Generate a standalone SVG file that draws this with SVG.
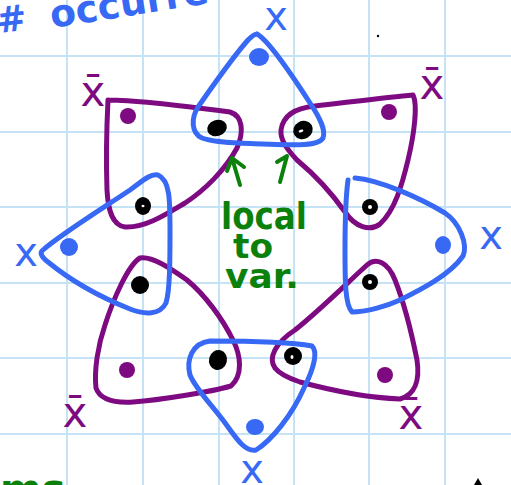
<svg xmlns="http://www.w3.org/2000/svg" width="511" height="485" viewBox="0 0 511 485">
<style>
.grid line{stroke:#c6e3f6;stroke-width:2}
.b{fill:none;stroke:#3869f5;stroke-width:5;stroke-linecap:round;stroke-linejoin:round}
.p{fill:none;stroke:#7d0a80;stroke-width:5;stroke-linecap:round;stroke-linejoin:round}
.g{fill:none;stroke:#0b800b;stroke-width:4;stroke-linecap:round;stroke-linejoin:round}
.bd{fill:#3869f5}
.pd{fill:#7d0a80}
.kd{fill:#000}
.hl{fill:#fff}
.tb{fill:#3869f5;font-family:"DejaVu Sans",sans-serif}
.tp{fill:#7d0a80;font-family:"DejaVu Sans",sans-serif}
.tg{fill:#0b800b;font-family:"DejaVu Sans",sans-serif;font-weight:bold}
</style>
<rect width="511" height="485" fill="#fff"/>
<g class="grid">
<line x1="67" y1="0" x2="67" y2="485"/><line x1="143" y1="0" x2="143" y2="485"/><line x1="219" y1="0" x2="219" y2="485"/><line x1="294" y1="0" x2="294" y2="485"/><line x1="369" y1="0" x2="369" y2="485"/><line x1="445" y1="0" x2="445" y2="485"/>
<line x1="0" y1="56" x2="511" y2="56"/><line x1="0" y1="132" x2="511" y2="132"/><line x1="0" y1="207" x2="511" y2="207"/><line x1="0" y1="283" x2="511" y2="283"/><line x1="0" y1="358" x2="511" y2="358"/><line x1="0" y1="434" x2="511" y2="434"/>
</g>
<text class="tb" x="-2" y="33" font-size="36" font-weight="bold" transform="rotate(-7 0 33)">#</text>
<text class="tb" x="52" y="28" font-size="38" font-weight="bold" transform="rotate(-9 52 28)" textLength="160" lengthAdjust="spacingAndGlyphs">occurre</text>
<text class="tg" x="0" y="503" font-size="40">ms</text>
<circle cx="378" cy="36" r="1.2" fill="#000"/>
<path d="M474,485 L478,478 L482,485" fill="#000"/>
<g id="clause-top-left">
<path class="p" d="M108,100 C140,100 200,108 230,112 C243,116 244,132 237,148 C225,170 205,190 185,203 C165,215 145,228 125,227 C112,225 108,210 107,190 C106,160 107,120 108,100"/>
<circle class="pd" cx="128" cy="116" r="8"/>
</g>
<g id="clause-top-right">
<path class="p" d="M297,160 C290,152 280,142 281,130 C283,115 295,108 315,106 C350,102 390,97 413,95 C418,105 414,135 408,160 C402,185 395,210 380,224 C370,232 355,227 345,212 C333,195 315,175 297,160"/>
<circle class="pd" cx="389" cy="112" r="8"/>
</g>
<g id="clause-bottom-left">
<path class="p" d="M140,258 C152,256 170,268 187,280 C205,295 222,318 233,340 C241,356 243,375 231,386 C210,392 160,400 133,402 C115,403 100,400 96,388 C94,370 98,345 105,325 C113,300 128,265 140,258"/>
<circle class="pd" cx="127" cy="370" r="8"/>
</g>
<g id="clause-bottom-right">
<path class="p" d="M275,368 C268,358 275,343 295,330 C320,310 345,285 367,265 C376,257 388,262 395,280 C405,305 412,335 417,360 C420,380 415,395 400,399 C370,398 330,390 300,382 C285,377 278,372 275,368"/>
<circle class="pd" cx="385" cy="375" r="8"/>
</g>
<g id="var-top">
<path class="b" d="M257,34 C268,40 290,72 310,103 C320,118 326,130 323,138 C318,147 290,145 262,144 C240,143 215,143 202,138 C191,133 191,118 198,107 C212,87 232,58 248,40 C252,36 255,34 257,34"/>
<ellipse class="bd" cx="259" cy="57" rx="10" ry="9"/>
</g>
<g id="var-left">
<path class="b" d="M43,250 C60,235 100,210 130,190 C140,183 150,173 158,175 C170,180 170,200 170,230 C170,260 170,290 166,303 C160,315 145,315 130,309 C100,297 70,280 48,262 C40,256 40,252 43,250"/>
<ellipse class="bd" cx="69" cy="247" rx="9" ry="9"/>
</g>
<g id="var-right">
<path class="b" d="M355,178 C380,180 420,198 445,213 C460,223 468,245 463,256 C450,275 420,290 400,300 C385,307 365,312 352,312 C345,305 345,280 345,250 C345,220 346,195 348,180"/>
<ellipse class="bd" cx="443" cy="245" rx="8" ry="9"/>
</g>
<g id="var-bottom">
<path class="b" d="M190,375 C186,360 192,343 210,341 C245,341 290,342 312,346 C318,352 314,368 304,388 C292,415 272,440 256,450 C246,452 238,441 228,427 C214,407 196,390 190,375"/>
<ellipse class="bd" cx="255" cy="427" rx="9" ry="8"/>
</g>
<g id="occurrences">
<ellipse class="kd" cx="217" cy="128" rx="10" ry="8" transform="rotate(-20 217 128)"/>
<ellipse class="kd" cx="303" cy="130" rx="10" ry="9" transform="rotate(-30 303 130)"/>
<ellipse class="hl" cx="301" cy="131" rx="2.5" ry="1.2" transform="rotate(-20 301 131)"/>
<ellipse class="kd" cx="143" cy="206" rx="8" ry="9"/>
<ellipse class="hl" cx="143" cy="206" rx="1.5" ry="1.2"/>
<ellipse class="kd" cx="140" cy="285" rx="9" ry="9"/>
<ellipse class="kd" cx="370" cy="207" rx="8" ry="8"/>
<ellipse class="hl" cx="370" cy="207" rx="2" ry="2"/>
<ellipse class="kd" cx="370" cy="282" rx="8" ry="8"/>
<ellipse class="hl" cx="370" cy="282" rx="2" ry="2"/>
<ellipse class="kd" cx="218" cy="360" rx="9" ry="10" transform="rotate(15 218 360)"/>
<ellipse class="kd" cx="293" cy="356" rx="9" ry="9"/>
<ellipse class="hl" cx="292" cy="357" rx="1.5" ry="2"/>
</g>
<g id="labels">
<text class="tb" x="276" y="30" font-size="40" text-anchor="middle">x</text>
<text class="tb" x="26" y="266" font-size="40" text-anchor="middle">x</text>
<text class="tb" x="491" y="249" font-size="40" text-anchor="middle">x</text>
<text class="tb" x="252" y="483" font-size="40" text-anchor="middle">x</text>
<text class="tp" x="93" y="106" font-size="42" text-anchor="middle">x̄</text>
<text class="tp" x="432" y="99" font-size="42" text-anchor="middle">x̄</text>
<text class="tp" x="75" y="427" font-size="42" text-anchor="middle">x̄</text>
<text class="tp" x="411" y="429" font-size="42" text-anchor="middle">x̄</text>
</g>
<g id="annotation">
<path class="g" d="M240,185 L232,158 M227,171 L232,158 L244,167"/>
<path class="g" d="M280,182 L287,156 L277,162"/>
<text class="tg" x="264" y="229" font-size="38" text-anchor="middle" textLength="86" lengthAdjust="spacingAndGlyphs">local</text>
<text class="tg" x="253" y="258" font-size="34" text-anchor="middle" textLength="40" lengthAdjust="spacingAndGlyphs">to</text>
<text class="tg" x="262" y="288" font-size="34" text-anchor="middle" textLength="74" lengthAdjust="spacingAndGlyphs">var.</text>
</g>
</svg>
